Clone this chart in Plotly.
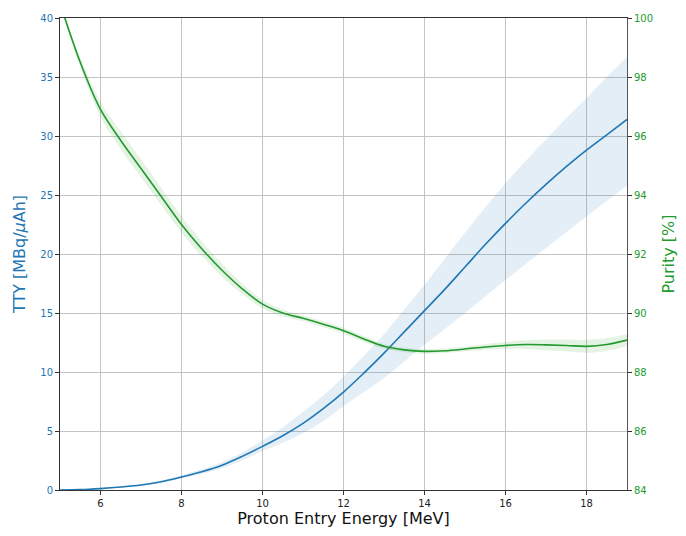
import plotly.graph_objects as go

# Proton entry energy grid [MeV]
energy = [5.0, 5.5, 6.0, 6.5, 7.0, 7.5, 8.0, 8.5, 9.0, 9.5, 10.0, 10.5, 11.0, 11.5,
          12.0, 12.5, 13.0, 13.5, 14.0, 14.5, 15.0, 15.5, 16.0, 16.5, 17.0, 17.5,
          18.0, 18.5, 19.0]

# Thick-target yield [MBq/uAh] with its uncertainty band
tty = [0.0, 0.03, 0.12, 0.25, 0.42, 0.7, 1.1, 1.55, 2.1, 2.85, 3.7, 4.6, 5.65, 6.9,
       8.3, 9.9, 11.6, 13.4, 15.2, 17.0, 18.9, 20.8, 22.6, 24.3, 25.9, 27.4,
       28.8, 30.1, 31.4]
tty_hi = [0.0, 0.04, 0.15, 0.3, 0.5, 0.82, 1.25, 1.75, 2.35, 3.2, 4.2, 5.3, 6.6, 8.0,
          9.6, 11.35, 13.2, 15.3, 17.4, 19.6, 21.8, 23.95, 26.0, 27.9, 29.7, 31.5,
          33.2, 35.0, 36.7]
tty_lo = [0.0, 0.02, 0.1, 0.2, 0.36, 0.6, 0.98, 1.38, 1.85, 2.5, 3.3, 4.0, 4.8, 5.85,
          7.1, 8.3, 9.5, 10.9, 12.3, 13.65, 15.0, 16.4, 17.8, 19.15, 20.5, 21.85,
          23.2, 24.5, 25.8]

# Radionuclidic purity [%] with its uncertainty band
purity = [100.5, 98.5, 96.9, 95.85, 94.9, 93.95, 93.0, 92.18, 91.45, 90.82, 90.3,
          90.0, 89.82, 89.62, 89.4, 89.12, 88.87, 88.75, 88.7, 88.72, 88.78, 88.85,
          88.9, 88.93, 88.92, 88.9, 88.87, 88.93, 89.08]
purity_err = [0.1, 0.15, 0.25, 0.3, 0.3, 0.3, 0.28, 0.25, 0.22, 0.18, 0.15, 0.12,
              0.1, 0.1, 0.1, 0.1, 0.08, 0.08, 0.08, 0.08, 0.08, 0.1, 0.12, 0.15,
              0.18, 0.2, 0.22, 0.22, 0.2]
purity_hi = [p + e for p, e in zip(purity, purity_err)]
purity_lo = [p - e for p, e in zip(purity, purity_err)]

x_ticks = [6, 8, 10, 12, 14, 16, 18]
tty_ticks = [0, 5, 10, 15, 20, 25, 30, 35, 40]
purity_ticks = [84, 86, 88, 90, 92, 94, 96, 98, 100]

BLUE = "#1f77b4"
GREEN = "#229a2e"
FONT = "DejaVu Sans"

fig = go.Figure()

# TTY band and curve (left axis)
fig.add_trace(go.Scatter(x=energy, y=tty_hi, mode="lines", line=dict(width=0, shape="spline"),
                         hoverinfo="skip", showlegend=False, yaxis="y"))
fig.add_trace(go.Scatter(x=energy, y=tty_lo, mode="lines", line=dict(width=0, shape="spline"),
                         fill="tonexty", fillcolor="rgba(31,119,180,0.12)",
                         hoverinfo="skip", showlegend=False, yaxis="y"))
fig.add_trace(go.Scatter(x=energy, y=tty, mode="lines", line=dict(color=BLUE, width=1.6, shape="spline"),
                         name="TTY", showlegend=False, yaxis="y"))

# Purity band and curve (right axis)
fig.add_trace(go.Scatter(x=energy, y=purity_hi, mode="lines", line=dict(width=0, shape="spline"),
                         hoverinfo="skip", showlegend=False, yaxis="y2"))
fig.add_trace(go.Scatter(x=energy, y=purity_lo, mode="lines", line=dict(width=0, shape="spline"),
                         fill="tonexty", fillcolor="rgba(44,160,44,0.13)",
                         hoverinfo="skip", showlegend=False, yaxis="y2"))
fig.add_trace(go.Scatter(x=energy, y=purity, mode="lines", line=dict(color=GREEN, width=1.6, shape="spline"),
                         name="Purity", showlegend=False, yaxis="y2"))

fig.update_layout(
    width=686, height=536,
    margin=dict(l=60, r=56, t=15, b=41),
    paper_bgcolor="white", plot_bgcolor="white",
    font=dict(family=FONT, size=10, color="#333"),
    xaxis=dict(
        range=[5, 19], tickvals=x_ticks, ticks="outside", ticklen=4, tickcolor="#333",
        showgrid=True, gridcolor="#c4c4c4", gridwidth=1, zeroline=False,
        showline=True, linecolor="#333", linewidth=1, mirror=True,
        tickfont=dict(family=FONT, size=10, color="#222"),
        title=dict(text="Proton Entry Energy [MeV]", font=dict(family=FONT, size=16, color="#111"),
                   standoff=4),
    ),
    yaxis=dict(
        range=[0, 40], tickvals=tty_ticks, ticks="outside", ticklen=4, tickcolor="#333",
        showgrid=True, gridcolor="#c4c4c4", gridwidth=1, zeroline=False,
        showline=True, linecolor="#333", linewidth=1,
        tickfont=dict(family=FONT, size=10, color=BLUE),
        title=dict(text="TTY [MBq/<i>μ</i>Ah]", font=dict(family=FONT, size=16, color=BLUE),
                   standoff=10),
    ),
    yaxis2=dict(
        range=[84, 100], tickvals=purity_ticks, ticks="outside", ticklen=4, tickcolor="#333",
        overlaying="y", side="right", showgrid=False, zeroline=False,
        showline=True, linecolor="#555", linewidth=1,
        tickfont=dict(family=FONT, size=10, color=GREEN),
        title=dict(text="Purity [%]", font=dict(family=FONT, size=16, color=GREEN),
                   standoff=10),
    ),
)

fig.write_html("out.html")
